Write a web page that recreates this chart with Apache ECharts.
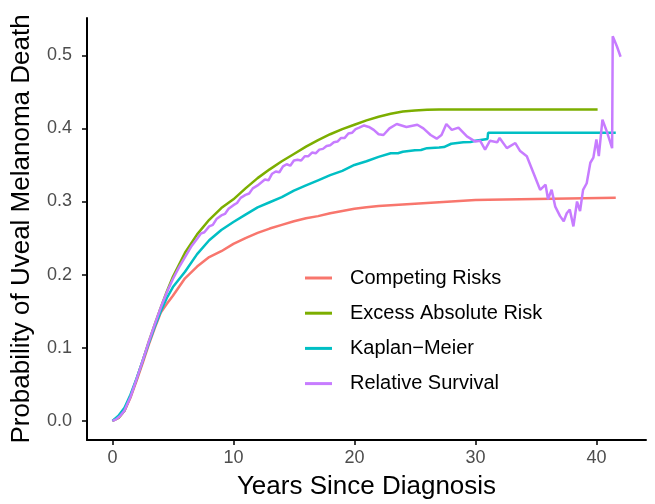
<!DOCTYPE html>
<html>
<head>
<meta charset="utf-8">
<script src="https://cdn.jsdelivr.net/npm/echarts@6/dist/echarts.min.js"></script>
<style>html,body{margin:0;padding:0;background:#fff}#c{width:655px;height:504px}</style>
</head>
<body>
<div id="c"></div>
<script>
var seriesNames = ['Competing Risks', 'Excess Absolute Risk', 'Kaplan\u2212Meier', 'Relative Survival'];
var xTicks = [0, 10, 20, 30, 40];
var yTicks = [0, 0.1, 0.2, 0.3, 0.4, 0.5];

var crX = [0, 0.5, 1, 1.5, 2, 2.5, 3, 3.5, 4, 4.5, 5, 6, 7, 8, 9, 10, 11, 12, 13, 14, 15, 16, 17, 18, 19, 20, 21, 22, 23, 24, 25, 26, 27, 28, 29, 30, 31.1, 31.2, 41.6];
var crY = [0, 0.004, 0.014, 0.032, 0.055, 0.079, 0.104, 0.127, 0.148, 0.160, 0.171, 0.195, 0.211, 0.224, 0.232, 0.242, 0.250, 0.257, 0.263, 0.268, 0.273, 0.277, 0.280, 0.284, 0.287, 0.290, 0.292, 0.294, 0.295, 0.296, 0.297, 0.298, 0.299, 0.300, 0.301, 0.302, 0.3025, 0.305, 0.305];

var eaX = [0, 0.5, 1, 1.5, 2, 2.5, 3, 3.5, 4, 4.5, 5, 6, 7, 8, 9, 10, 11, 12, 13, 14, 15, 16, 17, 18, 19, 20, 21, 22, 23, 24, 25, 26, 27, 40.1];
var eaY = [0, 0.004, 0.014, 0.034, 0.057, 0.082, 0.108, 0.132, 0.155, 0.177, 0.197, 0.230, 0.255, 0.275, 0.291, 0.303, 0.318, 0.332, 0.344, 0.355, 0.365, 0.375, 0.384, 0.392, 0.399, 0.405, 0.411, 0.416, 0.420, 0.423, 0.4245, 0.4255, 0.426, 0.426];

var kmX = [0, 0.5, 1, 1.5, 2, 2.5, 3, 3.5, 4, 4.5, 5, 6, 7, 8, 9, 10, 11, 12, 13, 14, 15, 16, 17, 18, 19, 20, 21, 22, 23, 23.6, 24, 25, 25.5, 26, 27, 27.4, 28, 29, 29.6, 30, 31.0, 31.05, 41.6];
var kmY = [0, 0.007, 0.018, 0.036, 0.058, 0.082, 0.106, 0.129, 0.150, 0.168, 0.183, 0.204, 0.228, 0.247, 0.261, 0.272, 0.282, 0.292, 0.299, 0.306, 0.315, 0.322, 0.329, 0.336, 0.342, 0.350, 0.355, 0.361, 0.366, 0.366, 0.368, 0.370, 0.3705, 0.373, 0.374, 0.3745, 0.379, 0.381, 0.3815, 0.383, 0.3855, 0.394, 0.394];

var rsX = [0, 0.3, 0.6, 1, 1.5, 2, 2.5, 3, 3.5, 4, 4.5, 5, 5.5, 6, 6.5, 7, 7.3, 7.6, 8, 8.3, 8.6, 9, 9.3, 9.6, 10, 10.3, 10.6, 11, 11.3, 11.6, 12, 12.3, 12.6, 12.9, 13.2, 13.5, 13.8, 14.1, 14.4, 14.7, 15, 15.3, 15.6, 15.9, 16.2, 16.5, 16.8, 17.1, 17.4, 17.7, 18, 18.3, 18.6, 18.9, 19.2, 19.5, 19.8, 20.1, 20.4, 20.8, 21.2, 21.6, 22, 22.4, 22.9, 23.5, 24.3, 25.2, 25.7, 26.3, 26.8, 27.2, 27.6, 28.05, 28.6, 29.3, 30.0, 30.4, 30.8, 31.2, 31.8, 32.0, 32.6, 33.3, 33.7, 34.25, 34.8, 35.35, 35.8, 36.0, 36.3, 36.6, 37.0, 37.3, 37.55, 37.8, 38.1, 38.4, 38.65, 38.9, 39.2, 39.5, 39.75, 40.0, 40.2, 40.5, 40.9, 41.3, 41.35, 41.7, 42.0];
var rsY = [0, 0.002, 0.006, 0.014, 0.033, 0.057, 0.082, 0.108, 0.132, 0.155, 0.176, 0.194, 0.210, 0.224, 0.238, 0.249, 0.256, 0.258, 0.266, 0.268, 0.276, 0.281, 0.283, 0.290, 0.295, 0.298, 0.305, 0.309, 0.311, 0.318, 0.322, 0.326, 0.330, 0.329, 0.338, 0.341, 0.340, 0.348, 0.351, 0.349, 0.356, 0.357, 0.356, 0.362, 0.362, 0.367, 0.366, 0.371, 0.372, 0.376, 0.377, 0.381, 0.382, 0.387, 0.387, 0.393, 0.394, 0.399, 0.401, 0.404, 0.402, 0.398, 0.392, 0.391, 0.400, 0.406, 0.402, 0.405, 0.400, 0.391, 0.386, 0.391, 0.406, 0.398, 0.401, 0.389, 0.382, 0.383, 0.371, 0.383, 0.381, 0.387, 0.373, 0.380, 0.369, 0.362, 0.339, 0.316, 0.323, 0.303, 0.316, 0.293, 0.280, 0.273, 0.284, 0.289, 0.266, 0.300, 0.287, 0.316, 0.325, 0.353, 0.360, 0.385, 0.362, 0.412, 0.394, 0.373, 0.526, 0.512, 0.498];

var colors = ['#F8766D', '#7CAE00', '#00BFC4', '#C77CFF'];

function zip(xs, ys) { return xs.map(function (x, i) { return [x, ys[i]]; }); }
var allData = [zip(crX, crY), zip(eaX, eaY), zip(kmX, kmY), zip(rsX, rsY)];

var chart = echarts.init(document.getElementById('c'), null, { renderer: 'canvas' });
var font = 'Liberation Sans, Arial, Helvetica, sans-serif';
chart.setOption({
  animation: false,
  backgroundColor: '#ffffff',
  color: colors,
  grid: { left: 87, right: 9, top: 18, bottom: 64, containLabel: false, outerBoundsMode: 'none' },
  legend: {
    orient: 'vertical',
    left: 305,
    top: 268,
    padding: 0,
    itemWidth: 27,
    itemHeight: 3,
    itemGap: 15.2,
    icon: 'rect',
    data: seriesNames,
    textStyle: { fontFamily: font, fontSize: 20, color: '#000', padding: [0, 0, 0, 13] }
  },
  xAxis: {
    type: 'value',
    min: -2.1,
    max: 44.1,
    name: 'Years Since Diagnosis',
    nameLocation: 'middle',
    nameGap: 34,
    nameTextStyle: { fontFamily: font, fontSize: 26, color: '#000' },
    axisLine: { show: true, onZero: false, lineStyle: { color: '#000', width: 2 } },
    axisTick: { show: true, length: 5, customValues: xTicks, lineStyle: { color: '#000', width: 1.5 } },
    axisLabel: { customValues: xTicks, margin: 9, fontFamily: font, fontSize: 18, color: '#4D4D4D' },
    splitLine: { show: false }
  },
  yAxis: {
    type: 'value',
    min: -0.0262,
    max: 0.551,
    name: 'Probability of Uveal Melanoma Death',
    nameLocation: 'middle',
    nameGap: 52,
    nameRotate: 90,
    nameTextStyle: { fontFamily: font, fontSize: 26, color: '#000' },
    axisLine: { show: true, onZero: false, lineStyle: { color: '#000', width: 2 } },
    axisTick: { show: true, length: 5, customValues: yTicks, lineStyle: { color: '#000', width: 1.5 } },
    axisLabel: { customValues: yTicks, margin: 15, fontFamily: font, fontSize: 18, color: '#4D4D4D',
      formatter: function (v) { return v.toFixed(1); } },
    splitLine: { show: false }
  },
  series: seriesNames.map(function (n, i) {
    return {
      name: n, type: 'line', data: allData[i], showSymbol: false, symbol: 'none',
      lineStyle: { width: 2.5, color: colors[i] }, itemStyle: { color: colors[i] }, z: 2 + i
    };
  })
});
</script>
</body>
</html>
